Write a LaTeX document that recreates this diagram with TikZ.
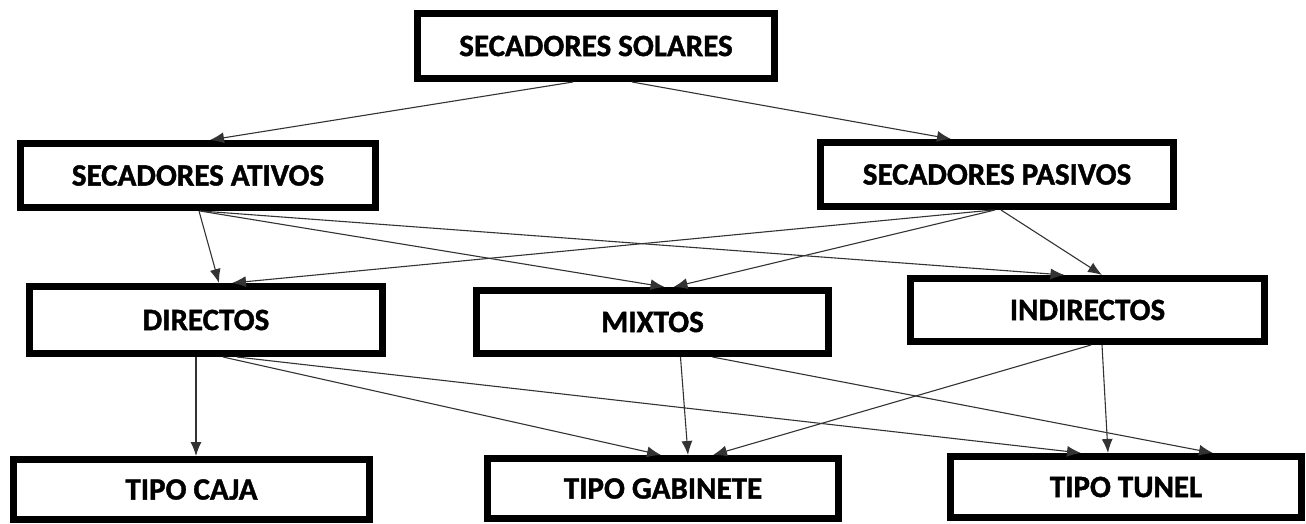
\documentclass[tikz,border=0pt]{standalone}
\usepackage{fontspec}
\setmainfont{Carlito}[BoldFeatures={FakeBold=1.3}]
\usetikzlibrary{arrows.meta}
\tikzset{
  box/.style={draw=black, line width=7pt, inner sep=0pt, fill=white,
    font=\fontsize{31}{37}\selectfont\bfseries, text=black},
  arr/.style={draw=black!80, line width=1.1pt, -{Latex[length=14pt,width=11pt]}}
}
\begin{document}
\begin{tikzpicture}[x=1pt,y=-1pt]
\useasboundingbox (0,0) rectangle (1306,524);
\node[box, minimum width=357pt, minimum height=65pt] (sol) at (596,46) {SECADORES SOLARES};
\node[box, minimum width=355pt, minimum height=64pt] (ati) at (198,175.5) {SECADORES ATIVOS};
\node[box, minimum width=353pt, minimum height=64pt] (pas) at (997,174.5) {SECADORES PASIVOS};
\node[box, minimum width=353pt, minimum height=67pt] (dir) at (206,320) {DIRECTOS};
\node[box, minimum width=352pt, minimum height=63pt] (mix) at (652.5,322) {MIXTOS};
\node[box, minimum width=354pt, minimum height=63pt] (ind) at (1087.5,310) {INDIRECTOS};
\node[box, minimum width=356pt, minimum height=60pt] (caja) at (191.5,489.5) {TIPO CAJA};
\node[box, minimum width=351pt, minimum height=60pt] (gab) at (663,488.5) {TIPO GABINETE};
\node[box, minimum width=351pt, minimum height=61pt] (tun) at (1126,487) {TIPO TUNEL};

\draw[arr] ([xshift=-23pt]sol.south) -- ([xshift=12pt]ati.north);
\draw[arr] ([xshift=36pt]sol.south) -- ([xshift=-46pt]pas.north);

\draw[arr] ([xshift=1pt]ati.south) -- ([xshift=13pt]dir.north);
\draw[arr] ([xshift=2pt]ati.south) -- ([xshift=12pt]mix.north);
\draw[arr] ([xshift=3pt]ati.south) -- ([xshift=-23pt]ind.north);

\draw[arr] ([xshift=-4pt]pas.south) -- ([xshift=26pt]dir.north);
\draw[arr] ([xshift=-2pt]pas.south) -- ([xshift=21pt]mix.north);
\draw[arr] ([xshift=4pt]pas.south) -- ([xshift=14.5pt]ind.north);

\draw[arr] ([xshift=-10pt]dir.south) -- ([xshift=4.5pt]caja.north);
\draw[arr] ([xshift=17pt]dir.south) -- ([xshift=-2pt]gab.north);
\draw[arr] ([xshift=31pt]dir.south) -- ([xshift=-45pt]tun.north);

\draw[arr] ([xshift=28pt]mix.south) -- ([xshift=25pt]gab.north);
\draw[arr] ([xshift=60pt]mix.south) -- ([xshift=87pt]tun.north);

\draw[arr] ([xshift=3.5pt]ind.south) -- ([xshift=50pt]gab.north);
\draw[arr] ([xshift=14.5pt]ind.south) -- ([xshift=-18pt]tun.north);
\end{tikzpicture}
\end{document}
